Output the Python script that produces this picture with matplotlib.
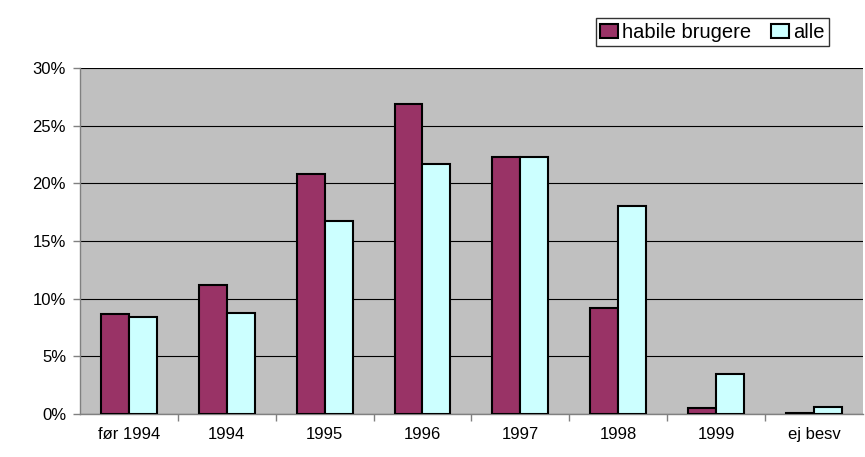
import numpy as np
import matplotlib.pyplot as plt
from matplotlib.ticker import PercentFormatter, MultipleLocator, FixedLocator, NullFormatter

plt.rcParams['font.family'] = ['Liberation Sans', 'DejaVu Sans']

categories = ['før 1994', '1994', '1995', '1996', '1997', '1998', '1999', 'ej besv']
habile = [8.7, 11.2, 20.8, 26.9, 22.3, 9.2, 0.5, 0.05]
alle = [8.4, 8.8, 16.7, 21.7, 22.3, 18.0, 3.5, 0.6]

fig = plt.figure(figsize=(8.65, 4.57), dpi=100)
ax = fig.add_axes([0.0925, 0.094, 0.905, 0.757])
ax.set_facecolor('#C0C0C0')

x = np.arange(len(categories))
w = 0.286
ax.bar(x - w/2, habile, w, color='#993366', edgecolor='black', linewidth=1.5,
       label='habile brugere', zorder=3)
ax.bar(x + w/2, alle, w, color='#CCFFFF', edgecolor='black', linewidth=1.5,
       label='alle', zorder=3)

ax.set_xlim(-0.5, len(categories) - 0.5)
ax.set_ylim(0, 30)
ax.yaxis.set_major_locator(MultipleLocator(5))
ax.yaxis.set_major_formatter(PercentFormatter(decimals=0))
ax.grid(axis='y', color='black', linewidth=0.8, zorder=1)

ax.set_xticks(x)
ax.set_xticklabels(categories)
ax.xaxis.set_minor_locator(FixedLocator(np.arange(0.5, len(categories) - 0.5, 1)))
ax.xaxis.set_minor_formatter(NullFormatter())
ax.tick_params(axis='x', which='major', length=0, pad=9, labelsize=12)
ax.tick_params(axis='x', which='minor', length=5, color='#808080', width=1)
ax.tick_params(axis='y', length=5, color='#808080', width=1, labelsize=12, pad=5)

for side in ['top', 'right']:
    ax.spines[side].set_visible(False)
ax.spines['left'].set_color('#808080')
ax.spines['bottom'].set_color('#808080')
ax.spines['left'].set_linewidth(1)
ax.spines['bottom'].set_linewidth(1)

leg = fig.legend(loc='upper right', bbox_to_anchor=(0.958, 0.96), ncol=2,
                 frameon=True, fancybox=False, edgecolor='black', fontsize=14.5,
                 handlelength=0.9, handleheight=0.7, handletextpad=0.2,
                 columnspacing=0.95, borderpad=0.22, borderaxespad=0)
leg.get_frame().set_linewidth(1)

fig.savefig('out.png', dpi=100)
